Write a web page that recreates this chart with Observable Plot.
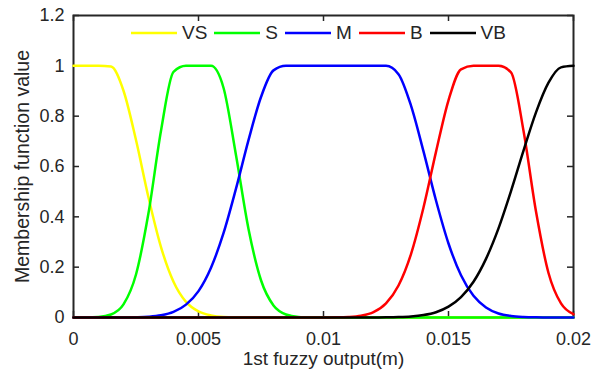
<!DOCTYPE html>
<html><head><meta charset="utf-8">
<script src="https://cdn.jsdelivr.net/npm/d3@7"></script>
<script src="https://cdn.jsdelivr.net/npm/@observablehq/plot@0.6"></script>
<style>
body{margin:0;background:#fff;}
#wrap{position:relative;width:598px;height:376px;font-family:"Liberation Sans",Arial,sans-serif;}
#legend{position:absolute;left:131px;top:23px;height:20px;display:flex;align-items:center;color:#262626;font-size:19px;}
.item{display:flex;align-items:center;margin-right:7px;}
.item svg{display:block}
.item span{margin-left:5px;line-height:20px}
</style></head><body><div id="wrap"></div>
<script>
const xs = [0,0.0005,0.001,0.0015,0.002,0.0025,0.003,0.0035,0.004,0.0045,0.005,0.0055,0.006,0.0065,0.007,0.0075,0.008,0.0085,0.009,0.0095,0.01,0.0105,0.011,0.0115,0.012,0.0125,0.013,0.0135,0.014,0.0145,0.015,0.0155,0.016,0.0165,0.017,0.0175,0.018,0.0185,0.019,0.0195,0.02];
const vs = [1,1,1,0.997,0.901,0.705,0.477,0.280,0.142,0.062,0.024,0.008,0.002,0.0005,0.0001,0,0,0,0,0,0,0,0,0,0,0,0,0,0,0,0,0,0,0,0,0,0,0,0,0,0];
const s = [0,0.0002,0.002,0.012,0.052,0.171,0.415,0.742,0.976,1,1,1,0.913,0.645,0.352,0.148,0.048,0.012,0.002,0.0004,0,0,0,0,0,0,0,0,0,0,0,0,0,0,0,0,0,0,0,0,0];
const m = [0,0,0,0.0001,0.0003,0.001,0.003,0.0086,0.022,0.051,0.105,0.198,0.335,0.512,0.705,0.876,0.982,1,1,1,1,1,1,1,1,1,0.967,0.842,0.660,0.465,0.294,0.168,0.086,0.040,0.016,0.006,0.002,0.0006,0.0002,0,0];
const b = [0,0,0,0,0,0,0,0,0,0,0,0,0,0,0,0,0,0,0,0,0.0001,0.0005,0.002,0.007,0.021,0.056,0.127,0.252,0.437,0.658,0.863,0.986,1,1,1,0.974,0.742,0.421,0.177,0.056,0.013];
const vb = [0,0,0,0,0,0,0,0,0,0,0,0,0,0,0,0,0,0,0,0,0,0,0,0.0001,0.0002,0.0006,0.0017,0.0042,0.0098,0.021,0.043,0.081,0.142,0.233,0.354,0.502,0.663,0.815,0.933,0.994,1];
const names = ["VS","S","M","B","VB"];
const colors = ["#ffff00","#00ff00","#0000ff","#ff0000","#000000"];
const xTicks = [0,0.005,0.01,0.015,0.02];
const yTicks = [0,0.2,0.4,0.6,0.8,1,1.2];
const xLabel = "1st fuzzy output(m)";
const yLabel = "Membership function value";

const series = [vs,s,m,b,vb];
const W=598,H=376,mL=73,mR=25,mT=15,mB=59;
const innerH=H-mT-mB, innerW=W-mL-mR;
const ink="#262626";
const tk=6;
const font='"Liberation Sans",Arial,sans-serif';
const lines = series.map((vals,i)=>Plot.line(xs.map((x,j)=>({x,y:vals[j]})),{x:"x",y:"y",stroke:colors[i],strokeWidth:2.5,curve:"monotone-x"}));
const chart = Plot.plot({
  width:W,height:H,marginLeft:mL,marginRight:mR,marginTop:mT,marginBottom:mB,
  style:{fontFamily:font,background:"white",color:ink},
  x:{domain:[0,0.02]},
  y:{domain:[0,1.2]},
  marks:[
    Plot.frame({stroke:ink,strokeWidth:2}),
    Plot.tickX(xTicks,{x:d=>d,insetTop:innerH-tk,stroke:ink,strokeWidth:1.5}),
    Plot.tickX(xTicks,{x:d=>d,insetBottom:innerH-tk,stroke:ink,strokeWidth:1.5}),
    Plot.tickY(yTicks,{y:d=>d,insetRight:innerW-tk,stroke:ink,strokeWidth:1.5}),
    Plot.tickY(yTicks,{y:d=>d,insetLeft:innerW-tk,stroke:ink,strokeWidth:1.5}),
    Plot.axisX({ticks:xTicks,tickFormat:d=>String(d),tickSize:0,tickPadding:15,fontSize:18,label:null}),
    Plot.axisY({ticks:yTicks,tickFormat:d=>String(d),tickSize:0,tickPadding:9,fontSize:18,label:null}),
    Plot.text([xLabel],{frameAnchor:"bottom",dy:41,text:d=>d,fontSize:19,lineAnchor:"middle",textAnchor:"middle",fill:ink}),
    Plot.text([yLabel],{frameAnchor:"left",dx:-51,rotate:-90,text:d=>d,fontSize:19.5,lineAnchor:"middle",textAnchor:"middle",fill:ink}),
    ...lines
  ]
});
const wrap=document.getElementById("wrap");
wrap.appendChild(chart);
const leg=document.createElement("div");
leg.id="legend";
names.forEach((n,i)=>{
  const it=document.createElement("div");it.className="item";
  it.innerHTML=`<svg width="46" height="6"><line x1="0" y1="3" x2="46" y2="3" stroke="${colors[i]}" stroke-width="2.5"/></svg><span>${n}</span>`;
  leg.appendChild(it);
});
wrap.appendChild(leg);
</script></body></html>
